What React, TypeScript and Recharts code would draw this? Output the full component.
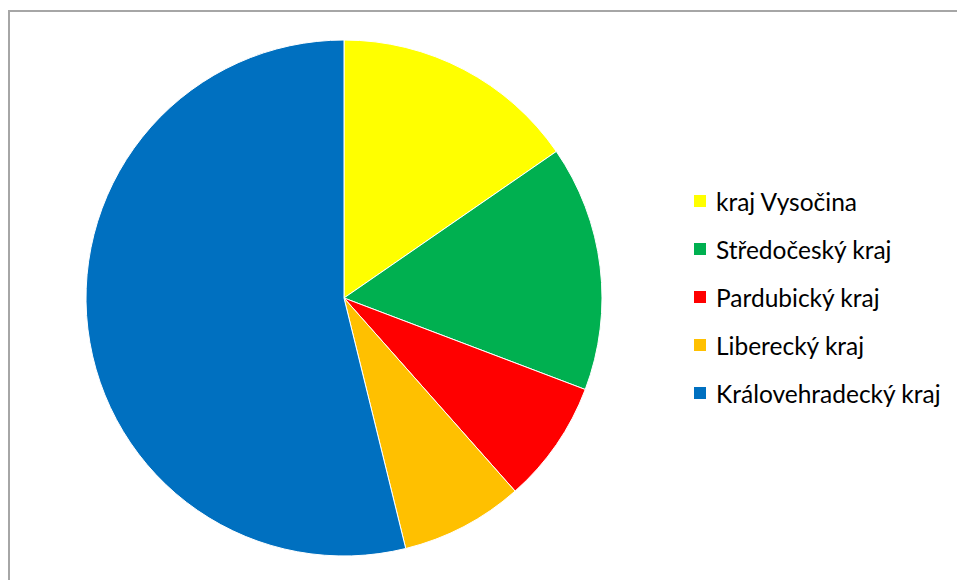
import { PieChart, Pie, Cell, Legend } from "recharts";

const regions = ["kraj Vysočina", "Středočeský kraj", "Pardubický kraj", "Liberecký kraj", "Královehradecký kraj"];
const counts = [2, 2, 1, 1, 7];
const colors = ["#FFFF00", "#00B050", "#FF0000", "#FFC000", "#0070C0"];

const rows = regions.map((name, i) => ({ name, value: counts[i] }));

function SideLegend() {
  return (
    <div style={{ fontFamily: "Lato, 'Open Sans', sans-serif", fontSize: 24.5, color: "#000" }}>
      {rows.map((r, i) => (
        <div key={r.name} style={{ display: "flex", alignItems: "center", height: 48 }}>
          <div style={{ width: 12, height: 12, background: colors[i], marginRight: 10 }} />
          <span>{r.name}</span>
        </div>
      ))}
    </div>
  );
}

export default function App() {
  return (
    <div style={{ position: "absolute", left: 0, top: 0, width: 957, height: 580, background: "#fff", overflow: "hidden" }}>
      {/* chart-area frame: only left and top edges are visible in the crop */}
      <div style={{
        position: "absolute", left: 8, top: 10, right: -20, bottom: -20,
        borderLeft: "2px solid #a6a6a6", borderTop: "2px solid #a6a6a6",
      }} />
      <PieChart width={957} height={580} margin={{ top: 0, right: 0, bottom: 0, left: 0 }}
        style={{ position: "absolute", left: 0, top: 0 }}>
        <Pie
          data={rows}
          dataKey="value"
          nameKey="name"
          cx={344}
          cy={298}
          outerRadius={258}
          startAngle={90}
          endAngle={-270}
          stroke="#fff"
          strokeWidth={1}
          isAnimationActive={false}
        >
          {rows.map((r, i) => <Cell key={r.name} fill={colors[i]} />)}
        </Pie>
        <Legend
          layout="vertical"
          content={<SideLegend />}
          wrapperStyle={{ left: 694, top: 177, width: 260 }}
        />
      </PieChart>
    </div>
  );
}
